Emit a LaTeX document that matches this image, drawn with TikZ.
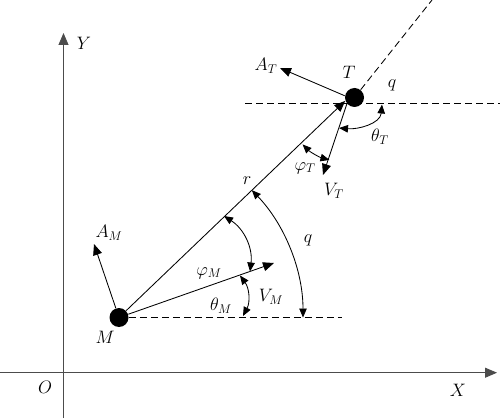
\RequirePackage{fix-cm}
\documentclass[tikz,border=0pt]{standalone}
\usetikzlibrary{arrows.meta,calc}
\begin{document}
\begin{tikzpicture}[x=1pt,y=1pt,
  line width=0.85pt,
  axis/.style={draw=black!70, line width=0.9pt, -{Triangle[length=12pt,width=10pt]}},
  vec/.style={draw=black, -{Triangle[length=11pt,width=9pt]}},
  angarr/.style={draw=black, {Triangle[length=9pt,width=7.5pt]}-{Triangle[length=9pt,width=7.5pt]}},
  guide/.style={draw=black, dash pattern=on 7pt off 4pt},
  dot/.style={circle, fill=black, inner sep=0pt, minimum size=19pt},
  lbl/.style={inner sep=0pt, font=\fontsize{18}{21}\selectfont}]
\useasboundingbox (0,0) rectangle (500,418);
% axes
\coordinate (Ybot) at (63.5,0);
\coordinate (Ytop) at (63.5,385);
\coordinate (Xl) at (0,45.3);
\coordinate (Xr) at (497,45.3);
\draw[axis] (Ybot) -- (Ytop);
\draw[axis] (Xl) -- (Xr);
% points
\node[dot] (M) at (119,100.5) {};
\node[dot] (T) at (354.5,320.5) {};
% guide lines
\coordinate (Mh) at (342,100.5);
\draw[guide] (M.east) -- (Mh);
\coordinate (Thl) at (245,314.7);
\coordinate (Thr) at (500,314.7);
\draw[guide] (Thl) -- (Thr);
\coordinate (Los) at (432,418);
\draw[guide] (T) -- (Los);
% vectors
\draw[vec] (M) -- (T.200);
\coordinate (ATe) at (280,350);
\draw[vec] (T.170) -- (ATe);
\coordinate (VTe) at (323,243);
\draw[vec] (T.220) -- (VTe);
\coordinate (AMe) at (94,174);
\draw[vec] (M) -- (AMe);
\coordinate (VMe) at (274,155);
\draw[vec] (M) -- (VMe);
% angles
\draw[angarr] ($(M.center)+(0:184)$) arc[start angle=0, end angle=43.8, radius=184];
\draw[angarr] (224,202) to[bend left=32] (250,146.5);
\draw[angarr] (240,142.5) to[bend left=32] (243,102);
\coordinate (P) at (345,316);
\draw[angarr] ($(P)+(225:60)$) arc[start angle=225, end angle=255, radius=60];
\draw[angarr] (339,290) to[out=-5,in=-95] (382,313.5);
% labels
\node[lbl] (lY) at (84,375) {$Y$};
\node[lbl] (lO) at (45,31) {$O$};
\node[lbl] (lX) at (458,28) {$X$};
\node[lbl] (lM) at (105,81) {$M$};
\node[lbl] (lT) at (349,346) {$T$};
\node[lbl] (lq1) at (392,333) {$q$};
\node[lbl] (lAT) at (266,352) {$A_T$};
\node[lbl] (lr) at (247,237) {$r$};
\node[lbl] (lVT) at (334,227) {$V_T$};
\node[lbl] (lphiT) at (305,250) {$\varphi_T$};
\node[lbl] (lthT) at (380,281) {$\theta_T$};
\node[lbl] (lAM) at (109,185) {$A_M$};
\node[lbl] (lphiM) at (209,145) {$\varphi_M$};
\node[lbl] (lthM) at (221,112) {$\theta_M$};
\node[lbl] (lVM) at (271,121) {$V_M$};
\node[lbl] (lq2) at (308,178) {$q$};
\end{tikzpicture}
\end{document}
